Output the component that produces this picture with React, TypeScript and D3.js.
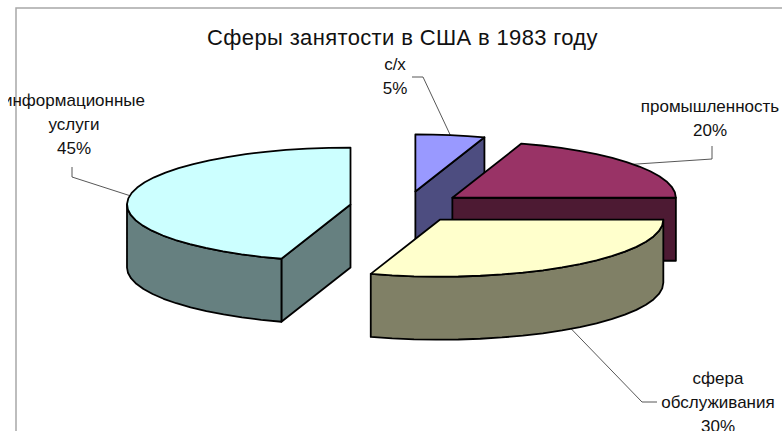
import * as d3 from "d3";

// share of employment, in pie order starting from 12 o'clock
const sectors = ["с/х", "промышленность", "сфера обслуживания", "информационные услуги"];
const shares = [5, 20, 30, 45];
const topColors = ["#9999ff", "#993366", "#ffffcc", "#ccffff"];
const sideColors = ["#4d4d80", "#4d1a33", "#808066", "#668080"];

// label lines per sector
const labelLines = [["с/х", "5%"], ["промышленность", "20%"], ["сфера", "обслуживания", "30%"], ["информационные", "услуги", "45%"]];

const width = 782;
const height = 431;
const cx = 406.5;
const cy = 207;
const rx = 223.5;
const ry = 57;
const depth = 63;
const explodeX = 56.7;
const explodeY = 15.7;

// layout of labels: centre x, first baseline, elbow points of the leader
const labelLayout = [
  { x: 395, y: 70, elbow: [[412, 77], [423, 77]], onSide: false },
  { x: 710, y: 112, elbow: [[712, 146], [712, 159]], onSide: false },
  { x: 718, y: 384, elbow: [[657, 402], [642, 402]], onSide: true },
  { x: 74, y: 106, elbow: [[72, 167], [72, 177]], onSide: false },
];

const pieGen = d3.pie<number>().sort(null).startAngle(0).endAngle(2 * Math.PI);
const slices = pieGen(shares).map((d, i) => {
  const mid = (d.startAngle + d.endAngle) / 2;
  return {
    i,
    a0: d.startAngle,
    a1: d.endAngle,
    mid,
    x: cx + explodeX * Math.sin(mid),
    y: cy - explodeY * Math.cos(mid),
  };
});

const line = d3.line();

function rim(s: { x: number; y: number }, a: number, dy = 0): [number, number] {
  return [s.x + rx * Math.sin(a), s.y - ry * Math.cos(a) + dy];
}

// coarse steps: the original outline is a visibly faceted polygon
function arcPoints(s: { x: number; y: number }, a0: number, a1: number, dy = 0) {
  const n = Math.max(2, Math.ceil((a1 - a0) / 0.1));
  return d3.range(n + 1).map((k) => rim(s, a0 + ((a1 - a0) * k) / n, dy));
}

function radialSide(s: { x: number; y: number }, a: number) {
  return line([[s.x, s.y], rim(s, a), rim(s, a, depth), [s.x, s.y + depth]]) + "Z";
}

function Slice({ s }: { s: (typeof slices)[number] }) {
  const top = topColors[s.i];
  const side = sideColors[s.i];
  const from = Math.max(s.a0, Math.PI / 2);
  const to = Math.min(s.a1, (3 * Math.PI) / 2);
  return (
    <g stroke="#000" strokeWidth={1.8} strokeLinejoin="round">
      {Math.sin(s.a0) < -0.001 && <path d={radialSide(s, s.a0)} fill={side} />}
      {Math.sin(s.a1) > 0.001 && <path d={radialSide(s, s.a1)} fill={side} />}
      {from < to && (
        <path
          d={line([...arcPoints(s, from, to), ...arcPoints(s, from, to, depth).reverse()]) + "Z"}
          fill={side}
        />
      )}
      <path d={line([[s.x, s.y], ...arcPoints(s, s.a0, s.a1)]) + "Z"} fill={top} />
    </g>
  );
}

export default function App() {
  const drawOrder = [...slices].sort((a, b) => d3.ascending(a.y, b.y));
  const font = "'Liberation Sans', Arial, sans-serif";
  return (
    <svg
      width={width}
      height={height}
      style={{ position: "absolute", left: 0, top: 0, display: "block" }}
      fontFamily={font}
    >
      <defs>
        <clipPath id="page">
          <rect x={8} y={0} width={width - 8} height={height} />
        </clipPath>
      </defs>
      <rect width={width} height={height} fill="#fff" />
      <path d={`M16,${height}V8H${width}`} fill="none" stroke="#a8a8a8" strokeWidth={1.5} />

      {slices.map((s) => {
        const anchor = rim(s, s.mid, labelLayout[s.i].onSide ? depth : 0);
        const pts = [...labelLayout[s.i].elbow, anchor] as [number, number][];
        return <path key={sectors[s.i]} d={line(pts) ?? ""} fill="none" stroke="#444" strokeWidth={0.9} />;
      })}

      {drawOrder.map((s) => (
        <Slice key={sectors[s.i]} s={s} />
      ))}

      <text x={402.5} y={45} textAnchor="middle" fontSize={22} letterSpacing={0.36} fill="#111">
        Сферы занятости в США в 1983 году
      </text>

      <g clipPath="url(#page)" fontSize={17} textAnchor="middle" fill="#111">
        {slices.map((s) =>
          labelLines[s.i].map((t, k) => (
            <text key={t} x={labelLayout[s.i].x} y={labelLayout[s.i].y + k * 24}>
              {t}
            </text>
          )),
        )}
      </g>
    </svg>
  );
}
